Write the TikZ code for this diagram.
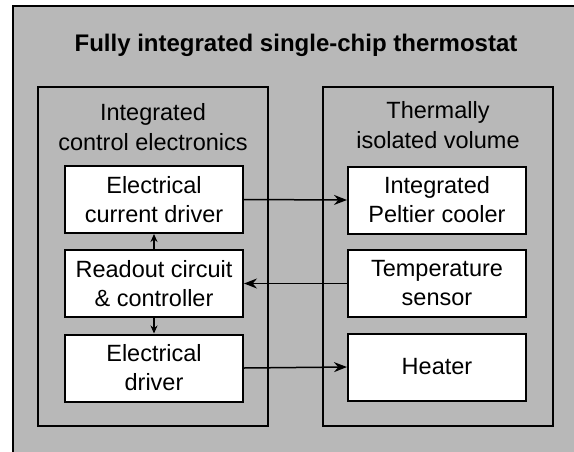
\documentclass[tikz,border=0pt]{standalone}
\usepackage{fontspec}
\setmainfont{Liberation Sans}
\usepackage{tikz}
\usetikzlibrary{arrows.meta}

\definecolor{stipple}{gray}{0.72}

\begin{document}
\begin{tikzpicture}[x=1pt, y=-1pt,
  box/.style={rectangle, draw, line width=2pt, fill=white, minimum width=178pt,
              minimum height=67pt, inner sep=0pt, align=center,
              font=\fontsize{23.5}{29}\selectfont},
  zone/.style={rectangle, draw, line width=2.5pt, minimum width=230pt,
               minimum height=339pt, inner sep=0pt},
  zlabel/.style={align=center, font=\fontsize{23.5}{30}\selectfont},
  arrow/.style={-{Stealth[length=13pt,width=10pt]}, line width=1.5pt},
  sarrow/.style={-{Stealth[length=8pt,width=7pt]}, line width=1.5pt}
]
\useasboundingbox (0,0) rectangle (574,451);
\clip (0,0) rectangle (574,451);

%% ---- chip frame ----
\draw[fill=stipple, line width=2pt] (13,6) rectangle (600,480);
\node[font=\fontsize{24}{28}\selectfont\bfseries] at (296,45) (title)
  {Fully integrated single-chip thermostat};

%% ---- ELECTRONICS (left) ----
\node[zone] at (153,256.5) (elec) {};
\node[zlabel] at (153,127) (eleclab) {Integrated\\control electronics};
\node[box] at (154,199.5) (cur)  {Electrical\\current driver};
\node[box] at (154,283.5) (ctrl) {Readout circuit\\\& controller};
\node[box] at (154,368)   (drv)  {Electrical\\driver};

%% ---- THERMAL VOLUME (right) ----
\node[zone] at (438,256.5) (vol) {};
\node[zlabel] at (438,125) (vollab) {Thermally\\isolated volume};
\node[box] at (437,200)   (pelt) {Integrated\\Peltier cooler};
\node[box] at (437,283.5) (temp) {Temperature\\sensor};
\node[box] at (437,367)   (heat) {Heater};

%% ---- Arrows ----
\draw[arrow]  (cur.east)  -- (pelt.west);
\draw[arrow]  (temp.west) -- (ctrl.east);
\draw[arrow]  (drv.east)  -- (heat.west);
\draw[sarrow] (ctrl.north) -- (cur.south);
\draw[sarrow] (ctrl.south) -- (drv.north);
\end{tikzpicture}
\end{document}
